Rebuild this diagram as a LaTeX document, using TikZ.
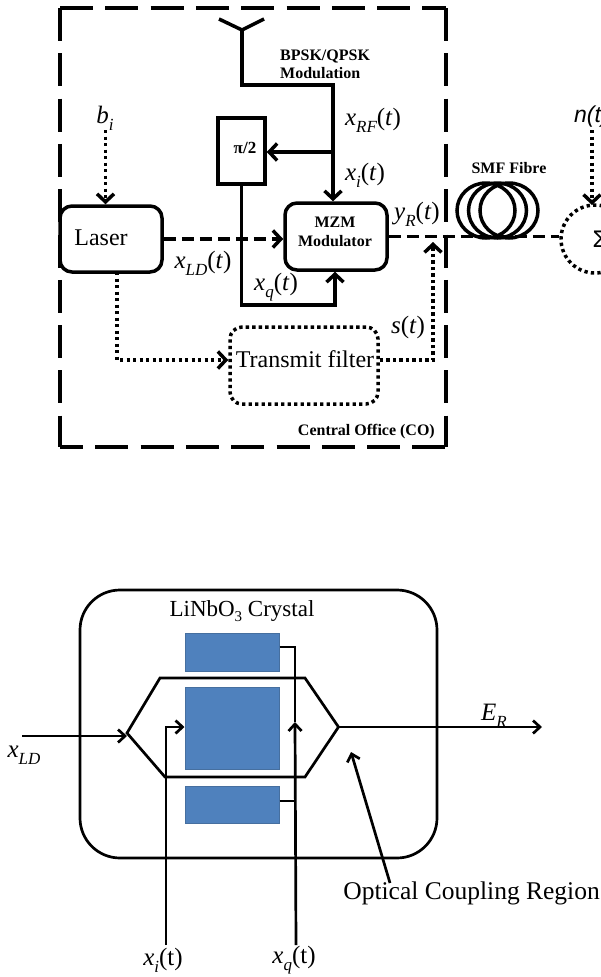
\documentclass[tikz,border=0pt]{standalone}
\usepackage{fontspec}
\setmainfont{Liberation Serif}
\newfontfamily\arialf{Liberation Sans}
\usetikzlibrary{arrows.meta,calc}
\newcommand{\fsz}[1]{\fontsize{#1}{#1}\selectfont}
\newcommand{\mylab}[3]{{\itshape #1}\raisebox{-0.28em}{\fsz{17}\itshape #2}#3}
\newcommand{\tpar}{(\textit{t})}
\tikzset{
  x=1pt,y=-1pt,
  thick line/.style={line width=3.5pt,black},
  thin line/.style={line width=2.7pt,black},
  frameline/.style={line width=4pt,black,dash pattern=on 33pt off 12.3pt},
  dashline/.style={thick line,dash pattern=on 12pt off 6pt},
  dotline/.style={thick line,dash pattern=on 3.3pt off 3.2pt},
  bigtip/.style={-{Straight Barb[length=8pt,width=17pt,line width=3.5pt]}},
  smalltip/.style={-{Straight Barb[length=7pt,width=13pt,line width=2.7pt]}},
  rbox/.style={draw,thick line,fill=white,rounded corners=12pt,inner sep=0pt},
  dbox/.style={draw,dotline,rounded corners=12pt,inner sep=0pt},
  sbox/.style={draw,thick line,fill=white,inner sep=0pt},
  blue box/.style={draw=blockedge,line width=1pt,fill=blockblue,inner sep=0pt},
  txt/.style={inner sep=0pt,font=\fsz{24}},
  bold/.style={inner sep=0pt,font=\fsz{16}\bfseries,align=center},
  lab/.style={inner sep=0pt,font=\fsz{25}},
}
\definecolor{blockblue}{HTML}{4F81BD}
\definecolor{blockedge}{HTML}{466F9F}
\begin{document}
\begin{tikzpicture}
\useasboundingbox (0,0) rectangle (601,977);
\begin{scope}
\clip (0,0) rectangle (601,977);
% frame
\coordinate (fa) at (60,8); \coordinate (fb) at (446,8);
\coordinate (fc) at (446,447); \coordinate (fd) at (60,447);
\draw[frameline] (fa) -- (fb);
\draw[frameline] (fa) -- (fd);
\draw[frameline] (fb) -- (fc);
\draw[frameline,dash phase=10pt] (fd) -- (fc);
% antenna
\coordinate (antL) at (219,19); \coordinate (antR) at (264,19);
\coordinate (ant) at (242,30); \coordinate (bend) at (333,85);
\coordinate (tap) at (333,152);
% blocks
\node[rbox,minimum width=102pt,minimum height=66pt] (laser) at (111,239) {};
\node[txt] (lasertxt) at (101,238) {Laser};
\node[rbox,minimum width=102pt,minimum height=67pt] (mzm) at (336,236.5) {};
\node[bold] (mzmtxt) at (335,232) {MZM\\[2.5pt]Modulator};
\node[sbox,minimum width=47pt,minimum height=66pt] (pi) at (241.5,151) {};
\node[bold,font=\fsz{17}\bfseries] (pitxt) at (245,148) {π/2};
\node[dbox,minimum width=148pt,minimum height=77pt] (filter) at (304,365.5) {};
\node[txt] (filtertxt) at (305,359) {Transmit filter};
\node[draw,dotline,circle,minimum size=68pt,inner sep=0pt] (sum) at (595,239) {};
\node[txt] (sumtxt) at (600,239) {\arialf Σ};
% antenna and RF lines
\draw[thick line,line join=round] (antL) -- (ant) -- (antR);
\draw[thick line,bigtip,line join=miter] (ant) -- (ant |- bend) -- (bend) -- (mzm.north -| bend);
\draw[thick line,bigtip] (tap) -- (pi.east |- tap);
\draw[thick line,bigtip,line join=miter] (pi.south) -- (pi.south |- 0,305) -- (335,305) -- (mzm.south -| 335,0);
% optical
\draw[dashline,bigtip] (laser.east) -- (laser.east -| mzm.west);
\coordinate (join) at (433,360);
\coordinate (jtip) at (433,242);
\draw[dashline] (mzm.east) -- (mzm.east -| sum.west);
\draw[dotline,bigtip] (117,272) -- (117,360) -- (filter.west |- 0,360);
\draw[dotline,bigtip] (filter.east |- 0,360) -- (join) -- (jtip);
\coordinate (bitop) at (105.5,130);
\draw[dotline,bigtip] (bitop) -- (bitop |- laser.north);
\coordinate (ntop) at (592,130);
\draw[dotline,bigtip] (ntop) -- (ntop |- 0,205);
% fibre
\draw[thick line] (486,210.5) ellipse (29 and 27.5);
\draw[thick line] (497.5,210.5) ellipse (29 and 27.5);
\draw[thick line] (509,210.5) ellipse (29 and 27.5);
% labels
\node[bold,align=left,anchor=north west] (bpsk) at (280,50) {BPSK/QPSK\\[1.5pt]Modulation};
\node[bold] (smf) at (509,168) {SMF Fibre};
\node[bold,anchor=east] (co) at (435,432) {Central Office (CO)};
\node[lab] (bi) at (105,118) {\mylab{b}{i}{}};
\node[lab] (xrf) at (373,120) {\mylab{x}{RF}{\tpar}};
\node[lab] (xi) at (365,175) {\mylab{x}{i}{\tpar}};
\node[lab] (yr) at (417,214) {\mylab{y}{R}{\tpar}};
\node[lab] (xld) at (203,263) {\mylab{x}{LD}{\tpar}};
\node[lab] (xq) at (276,287) {\mylab{x}{q}{\tpar}};
\node[lab] (st) at (408,328) {\mylab{s}{}{\tpar}};
\node[lab,anchor=west,font=\fsz{23}\arialf\itshape] (nt) at (574,117) {n(t)};
% modulator detail
\node[draw,line width=2.7pt,rounded corners=40pt,minimum width=357pt,minimum height=268pt,inner sep=0pt] (crystal) at (258.5,724) {};
\node[lab,font=\fsz{23}] (lnb) at (242,611) {LiNbO\raisebox{-0.25em}{\fsz{15}3} Crystal};
\node[blue box,minimum width=94pt,minimum height=38pt] (b1) at (232,652) {};
\node[blue box,minimum width=94pt,minimum height=82pt] (b2) at (232,728) {};
\node[blue box,minimum width=94pt,minimum height=37pt] (b3) at (232,804.5) {};
\coordinate (hl) at (127,733); \coordinate (htl) at (160,678); \coordinate (htr) at (305,678);
\coordinate (hr) at (338.5,727); \coordinate (hbr) at (305,777); \coordinate (hbl) at (165,777);
\draw[thin line,line join=miter] (hl) -- (htl) -- (htr) -- (hr) -- (hbr) -- (hbl) -- cycle;
\coordinate (inp) at (22,736); \coordinate (xib) at (166,945); \coordinate (xqb) at (296,945);
\coordinate (er) at (542,727); \coordinate (oc) at (390,883); \coordinate (octip) at (351,752);
\draw[thin line,smalltip] (inp) -- (inp -| hl);
\draw[thin line,smalltip] (xib) -- (166,727) -- (b2.west |- 0,727);
\draw[thin line,smalltip] (xqb) -- (295,722);
\draw[thin line] (b1.east |- 0,647) -- (295,647) -- (295,722);
\draw[thin line] (b3.east |- 0,801) -- (295,801);
\draw[thin line,smalltip] (hr) -- (er);
\draw[thin line,smalltip] (oc) -- (octip);
\node[lab] (xld2) at (24,755) {\mylab{x}{LD}{}};
\node[lab] (er2) at (494,716) {\mylab{E}{R}{}};
\node[lab,anchor=east,font=\fsz{25.5}] (ocr) at (600,893) {Optical Coupling Region};
\node[lab] (xit) at (163,960) {\mylab{x}{i}{}(t)};
\node[lab] (xqt) at (294,960) {\mylab{x}{q}{}(t)};
\end{scope}
\end{tikzpicture}
\end{document}
